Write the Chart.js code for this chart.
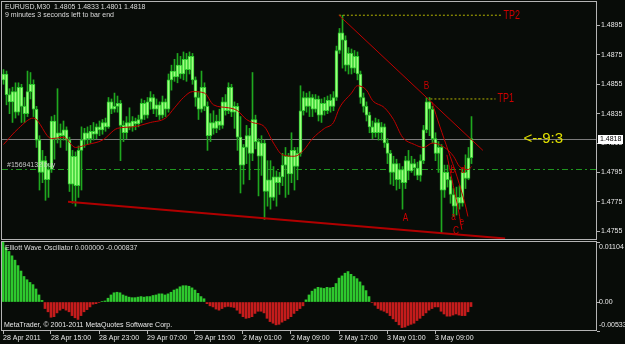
<!DOCTYPE html>
<html>
<head>
<meta charset="utf-8">
<title>EURUSD,M30</title>
<script src="https://cdn.jsdelivr.net/npm/chart.js@4.4.1/dist/chart.umd.min.js"></script>
<style>
  html, body { margin: 0; padding: 0; background: #080c08; }
  #wrap { position: relative; width: 625px; height: 344px; overflow: hidden; }
  canvas { position: absolute; left: 0; }
  #main { top: 0; }
  #osc { top: 241px; }
</style>
</head>
<body>
<div id="wrap">
  <canvas id="main" width="625" height="241"></canvas>
  <canvas id="osc" width="625" height="103"></canvas>
</div>
<script>
// EURUSD M30 candles (one entry per bar)
const opens = [
  1.4858,1.4862,1.4848,1.4843,1.4850,1.4836,1.4853,1.4840,1.4835,1.4850,
  1.4855,1.4838,1.4817,1.4795,1.4803,1.4790,1.4797,1.4830,1.4818,1.4822,
  1.4820,1.4824,1.4817,1.4787,1.4806,1.4786,1.4810,1.4817,1.4822,1.4818,
  1.4823,1.4821,1.4826,1.4824,1.4829,1.4826,1.4843,1.4838,1.4840,1.4842,
  1.4827,1.4822,1.4829,1.4826,1.4830,1.4828,1.4831,1.4842,1.4834,1.4843,
  1.4846,1.4838,1.4841,1.4834,1.4843,1.4838,1.4858,1.4864,1.4860,1.4868,
  1.4862,1.4872,1.4865,1.4874,1.4858,1.4846,1.4838,1.4853,1.4840,1.4820,
  1.4829,1.4825,1.4830,1.4827,1.4843,1.4837,1.4853,1.4836,1.4840,1.4819,
  1.4800,1.4812,1.4820,1.4808,1.4831,1.4816,1.4806,1.4815,1.4782,1.4790,
  1.4778,1.4792,1.4788,1.4792,1.4800,1.4806,1.4794,1.4810,1.4799,1.4808,
  1.4837,1.4846,1.4840,1.4846,1.4838,1.4845,1.4834,1.4842,1.4837,1.4844,
  1.4840,1.4846,1.4878,1.4890,1.4885,1.4868,1.4876,1.4866,1.4874,1.4862,
  1.4846,1.4840,1.4834,1.4826,1.4822,1.4829,1.4822,1.4826,1.4815,1.4808,
  1.4795,1.4801,1.4790,1.4797,1.4788,1.4803,1.4796,1.4801,1.4798,1.4793,
  1.4803,1.4824,1.4843,1.4838,1.4818,1.4808,1.4812,1.4783,1.4795,1.4790,
  1.4780,1.4772,1.4778,1.4774,1.4795,1.4791,1.4805
];
const highs = [
  1.4865,1.4864,1.4852,1.4853,1.4856,1.4856,1.4855,1.4846,1.4864,1.4863,
  1.4858,1.4840,1.4820,1.4810,1.4806,1.4801,1.4833,1.4834,1.4852,1.4828,
  1.4830,1.4826,1.4819,1.4810,1.4809,1.4813,1.4826,1.4825,1.4826,1.4827,
  1.4829,1.4828,1.4830,1.4831,1.4832,1.4846,1.4845,1.4849,1.4847,1.4844,
  1.4830,1.4833,1.4839,1.4833,1.4832,1.4834,1.4845,1.4844,1.4846,1.4850,
  1.4848,1.4845,1.4843,1.4847,1.4845,1.4862,1.4868,1.4872,1.4876,1.4874,
  1.4877,1.4876,1.4877,1.4876,1.4860,1.4850,1.4864,1.4856,1.4843,1.4835,
  1.4837,1.4834,1.4838,1.4846,1.4848,1.4856,1.4855,1.4843,1.4842,1.4833,
  1.4814,1.4827,1.4825,1.4863,1.4834,1.4818,1.4820,1.4817,1.4803,1.4803,
  1.4799,1.4796,1.4795,1.4808,1.4812,1.4808,1.4822,1.4812,1.4812,1.4854,
  1.4850,1.4849,1.4850,1.4848,1.4848,1.4847,1.4845,1.4846,1.4847,1.4848,
  1.4850,1.4881,1.4893,1.4902,1.4888,1.4880,1.4879,1.4878,1.4877,1.4864,
  1.4849,1.4843,1.4836,1.4830,1.4832,1.4831,1.4829,1.4828,1.4818,1.4810,
  1.4806,1.4804,1.4801,1.4799,1.4806,1.4810,1.4806,1.4804,1.4802,1.4807,
  1.4827,1.4846,1.4846,1.4840,1.4822,1.4816,1.4814,1.4800,1.4800,1.4792,
  1.4784,1.4785,1.4786,1.4798,1.4807,1.4812,1.4833
];
const lows = [
  1.4855,1.4841,1.4835,1.4829,1.4832,1.4834,1.4829,1.4829,1.4833,1.4845,
  1.4833,1.4812,1.4783,1.4788,1.4776,1.4778,1.4795,1.4804,1.4815,1.4812,
  1.4817,1.4810,1.4782,1.4774,1.4772,1.4778,1.4783,1.4812,1.4814,1.4815,
  1.4817,1.4818,1.4820,1.4821,1.4823,1.4825,1.4835,1.4836,1.4836,1.4803,
  1.4816,1.4818,1.4824,1.4823,1.4824,1.4826,1.4829,1.4831,1.4832,1.4838,
  1.4835,1.4833,1.4831,1.4832,1.4833,1.4836,1.4851,1.4857,1.4856,1.4859,
  1.4858,1.4857,1.4862,1.4855,1.4840,1.4831,1.4836,1.4837,1.4810,1.4816,
  1.4821,1.4822,1.4824,1.4825,1.4834,1.4835,1.4833,1.4825,1.4810,1.4781,
  1.4787,1.4801,1.4790,1.4803,1.4811,1.4779,1.4793,1.4763,1.4772,1.4770,
  1.4776,1.4772,1.4780,1.4786,1.4778,1.4780,1.4788,1.4783,1.4790,1.4806,
  1.4834,1.4836,1.4833,1.4833,1.4836,1.4830,1.4829,1.4834,1.4835,1.4836,
  1.4837,1.4844,1.4876,1.4866,1.4864,1.4862,1.4862,1.4863,1.4858,1.4842,
  1.4836,1.4830,1.4822,1.4818,1.4819,1.4817,1.4817,1.4812,1.4801,1.4787,
  1.4786,1.4783,1.4784,1.4770,1.4784,1.4790,1.4795,1.4793,1.4790,1.4789,
  1.4801,1.4822,1.4820,1.4815,1.4803,1.4795,1.4754,1.4778,1.4785,1.4774,
  1.4765,1.4766,1.4770,1.4772,1.4784,1.4790,1.4801
];
const closes = [
  1.4862,1.4848,1.4843,1.4850,1.4836,1.4853,1.4840,1.4835,1.4850,1.4855,
  1.4838,1.4817,1.4795,1.4803,1.4790,1.4797,1.4830,1.4818,1.4822,1.4820,
  1.4824,1.4817,1.4787,1.4806,1.4786,1.4810,1.4817,1.4822,1.4818,1.4823,
  1.4821,1.4826,1.4824,1.4829,1.4826,1.4843,1.4838,1.4840,1.4842,1.4827,
  1.4822,1.4829,1.4826,1.4830,1.4828,1.4831,1.4842,1.4834,1.4843,1.4846,
  1.4838,1.4841,1.4834,1.4843,1.4838,1.4858,1.4864,1.4860,1.4868,1.4862,
  1.4872,1.4865,1.4874,1.4858,1.4846,1.4838,1.4853,1.4840,1.4820,1.4829,
  1.4825,1.4830,1.4827,1.4843,1.4837,1.4853,1.4836,1.4840,1.4819,1.4800,
  1.4812,1.4820,1.4808,1.4831,1.4816,1.4806,1.4815,1.4782,1.4790,1.4778,
  1.4792,1.4788,1.4792,1.4800,1.4806,1.4794,1.4810,1.4799,1.4808,1.4837,
  1.4846,1.4840,1.4846,1.4838,1.4845,1.4834,1.4842,1.4837,1.4844,1.4840,
  1.4846,1.4878,1.4890,1.4885,1.4868,1.4876,1.4866,1.4874,1.4862,1.4846,
  1.4840,1.4834,1.4826,1.4822,1.4829,1.4822,1.4826,1.4815,1.4808,1.4795,
  1.4801,1.4790,1.4797,1.4788,1.4803,1.4796,1.4801,1.4798,1.4793,1.4803,
  1.4824,1.4843,1.4838,1.4818,1.4808,1.4812,1.4783,1.4795,1.4790,1.4780,
  1.4772,1.4778,1.4774,1.4795,1.4791,1.4805,1.4818
];

// Elliott Wave Oscillator histogram, one value per bar
const oscValues = [
  0.0110, 0.0100, 0.0093, 0.0085, 0.0077, 0.0067, 0.0057, 0.0047, 0.0041, 0.0036,
  0.0032, 0.0024, 0.0013, 0.0003,-0.0012,-0.0018,-0.0028,-0.0027,-0.0020,-0.0015,
 -0.0012,-0.0015,-0.0018,-0.0025,-0.0029,-0.0032,-0.0025,-0.0018,-0.0014,-0.0009,
 -0.0004,-0.0003,-0.0001, 0.0001, 0.0002, 0.0007, 0.0013, 0.0017, 0.0018, 0.0017,
  0.0013, 0.0011, 0.0009, 0.0008, 0.0008, 0.0009, 0.0010, 0.0009, 0.0010, 0.0010,
  0.0012, 0.0013, 0.0015, 0.0015, 0.0013, 0.0015, 0.0018, 0.0022, 0.0024, 0.0028,
  0.0030, 0.0030, 0.0029, 0.0026, 0.0022, 0.0016, 0.0010, 0.0006,-0.0003,-0.0007,
 -0.0009,-0.0013,-0.0015,-0.0012,-0.0009,-0.0008,-0.0009,-0.0010,-0.0015,-0.0021,
 -0.0027,-0.0030,-0.0029,-0.0027,-0.0021,-0.0017,-0.0017,-0.0020,-0.0030,-0.0036,
 -0.0039,-0.0042,-0.0041,-0.0037,-0.0034,-0.0031,-0.0027,-0.0021,-0.0016,-0.0012,
 -0.0007, 0.0004, 0.0013, 0.0020, 0.0024, 0.0027, 0.0026, 0.0025, 0.0027, 0.0026,
  0.0027, 0.0034, 0.0044, 0.0048, 0.0053, 0.0056, 0.0051, 0.0047, 0.0043, 0.0037,
  0.0030, 0.0021, 0.0010,-0.0001,-0.0006,-0.0012,-0.0015,-0.0017,-0.0020,-0.0025,
 -0.0031,-0.0036,-0.0042,-0.0047,-0.0046,-0.0043,-0.0041,-0.0039,-0.0034,-0.0030,
 -0.0025,-0.0020,-0.0015,-0.0012,-0.0009,-0.0009,-0.0017,-0.0022,-0.0026,-0.0026,
 -0.0024,-0.0022,-0.0024,-0.0025,-0.0025,-0.0018,-0.000837
];
const oscSignal = 0.0;

// red moving average, read at a handful of bars
const maIdx = [0,5,10,16,20,24,28,33,38,43,49,54,57,60,63,67,70,75,78,81,83,87,90,93,97,100,103,107,110,112,116,118,121,123,127,130,133,137,140,143,147,150,152,155,156];
const maValues = [1.4814,1.4825,1.4832,1.4818,1.4819,1.4812,1.4814,1.4817,1.4825,1.4826,1.4829,1.4832,1.4839,1.4846,1.4850,1.4849,1.4841,1.4839,1.4837,1.4831,1.4829,1.4826,1.4815,1.4807,1.4806,1.4810,1.4818,1.4825,1.4829,1.4839,1.4849,1.4854,1.4851,1.4844,1.4839,1.4831,1.4819,1.4814,1.4812,1.4815,1.4812,1.4806,1.4799,1.4797,1.4799];

// drawn objects
const supportIdx = [21.5, 167.2];
const supportPrice = [1.4775, 1.4750];
const resistIdx = [111.8, 159.8];
const resistPrice = [1.4902, 1.4810];
const waveLine1Idx = [142.8, 145.5, 148.2, 151.2, 153.8, 154.8];
const waveLine1Price = [1.4843, 1.4826, 1.4810, 1.4792, 1.4774, 1.4765];
const waveLine2Idx = [147.8, 149.5, 151.2, 152.8];
const waveLine2Price = [1.4807, 1.4790, 1.4774, 1.4756];
const tpNames = ['TP2', 'TP1'];
const tpLevels = [1.4902, 1.4845];
const tpFrom = [111.8, 142.3];
const tpTo = [166.0, 164.0];
const waveNames = ['A', 'B', 'C', 'a', 'b', 'd', 'e'];
const waveIdx = [134, 141, 150.8, 150, 149.8, 153.2, 152.8];
const wavePrice = [1.4764, 1.4854, 1.4755, 1.4765, 1.4797, 1.4797, 1.4761];
const lastPrice = 1.4818;
const orderPrice = 1.4797;
const orderText = '#15694132 buy';
const timerText = '<--9:3';
const timerIdx = 173.3;

// axes
const priceTicks = [1.4755, 1.4775, 1.4795, 1.4815, 1.4835, 1.4855, 1.4875, 1.4895];
const timeTickIdx = [0, 16, 32, 48, 64, 80, 96, 112, 128, 144];
const timeLabels = ['28 Apr 2011', '28 Apr 15:00', '28 Apr 23:00', '29 Apr 07:00', '29 Apr 15:00',
                    '2 May 01:00', '2 May 09:00', '2 May 17:00', '3 May 01:00', '3 May 09:00'];
const oscTicks = [0.01104, 0, -0.00533];
const oscTickText = ['0.01104', '0.00', '-0.00533'];

const BG = '#080c08';
const FRAME = '#b4b4b4';
const FONT = '"Liberation Sans", Arial, sans-serif';
const RED = '#cc0000';

const bars = closes.map((_, i) => i);
const pts = (xs, ys) => xs.map((x, k) => ({ x, y: ys[k] }));

function txt(ctx, s, x, y, color, size, align, sx) {
  ctx.save();
  ctx.translate(x, y);
  ctx.scale(sx || 1, 1);
  ctx.font = size + 'px ' + FONT;
  ctx.fillStyle = color;
  ctx.textAlign = align || 'left';
  ctx.textBaseline = 'middle';
  ctx.fillText(s, 0, 0);
  ctx.restore();
}

const mainDecor = {
  id: 'mainDecor',
  beforeDraw(chart) {
    const { ctx, width, height } = chart;
    ctx.save();
    ctx.fillStyle = BG;
    ctx.fillRect(0, 0, width, height);
    ctx.restore();
  },
  beforeDatasetsDraw(chart) {
    const { ctx, chartArea: a, scales: { y } } = chart;
    ctx.save();
    ctx.lineWidth = 1;
    let py = Math.round(y.getPixelForValue(lastPrice)) + 0.5;
    ctx.strokeStyle = '#7c7c7c';
    ctx.beginPath(); ctx.moveTo(a.left, py); ctx.lineTo(a.right, py); ctx.stroke();
    py = Math.round(y.getPixelForValue(orderPrice)) + 0.5;
    ctx.strokeStyle = '#1f961f';
    ctx.setLineDash([6, 3, 2, 3]);
    ctx.beginPath(); ctx.moveTo(a.left, py); ctx.lineTo(a.right, py); ctx.stroke();
    ctx.restore();
  },
  afterDatasetsDraw(chart) {
    const { ctx, chartArea: a, scales: { x, y } } = chart;
    const n = closes.length - 1;
    const ohlc = [opens[n], highs[n], lows[n], closes[n]].map(v => v.toFixed(4)).join(' ');
    txt(ctx, 'EURUSD,M30  ' + ohlc, a.left + 3, 7.5, '#dcdcdc', 7);
    txt(ctx, '9 minutes 3 seconds left to bar end', a.left + 3, 15.5, '#dcdcdc', 7);
    txt(ctx, orderText, a.left + 5, y.getPixelForValue(orderPrice) - 4.5, '#c8c8c8', 7);
    tpNames.forEach((s, k) => {
      txt(ctx, s, x.getPixelForValue(tpTo[k]) + 2, y.getPixelForValue(tpLevels[k]), RED, 12, 'left', 0.75);
    });
    waveNames.forEach((s, k) => {
      txt(ctx, s, x.getPixelForValue(waveIdx[k]), y.getPixelForValue(wavePrice[k]), RED, 11, 'center', 0.75);
    });
    txt(ctx, timerText, x.getPixelForValue(timerIdx), y.getPixelForValue(lastPrice), '#e0e000', 15, 'left');
  },
  afterDraw(chart) {
    const { ctx, chartArea: a, scales: { y } } = chart;
    ctx.save();
    ctx.strokeStyle = FRAME;
    ctx.lineWidth = 1;
    ctx.strokeRect(a.left - 0.5, a.top - 0.5, a.right - a.left, a.bottom - a.top);
    const py = Math.round(y.getPixelForValue(lastPrice));
    ctx.fillStyle = '#ffffff';
    ctx.fillRect(a.right + 1, py - 4, 25, 9);
    ctx.restore();
    txt(ctx, lastPrice.toFixed(4), a.right + 3, py + 0.5, '#000000', 7);
  }
};

const oscDecor = {
  id: 'oscDecor',
  beforeDraw(chart) {
    const { ctx, width, height } = chart;
    ctx.save();
    ctx.fillStyle = BG;
    ctx.fillRect(0, 0, width, height);
    ctx.restore();
  },
  afterDraw(chart) {
    const { ctx, chartArea: a, scales: { y } } = chart;
    ctx.save();
    ctx.strokeStyle = FRAME;
    ctx.lineWidth = 1;
    ctx.strokeRect(a.left - 0.5, a.top - 0.5, a.right - a.left, a.bottom - a.top);
    ctx.restore();
    oscTicks.forEach((v, k) => {
      const py = Math.min(Math.max(y.getPixelForValue(v), a.top + 5), a.bottom - 6);
      txt(ctx, oscTickText[k], a.right + 2, py, '#e8e8e8', 7);
    });
    const last = oscValues[oscValues.length - 1];
    txt(ctx, 'Elliott Wave Oscillator ' + oscSignal.toFixed(6) + ' ' + last.toFixed(6),
        a.left + 3, a.top + 6, '#dcdcdc', 7);
    txt(ctx, 'MetaTrader, \u00a9 2001-2011 MetaQuotes Software Corp.', a.left + 2, a.bottom - 5.5, '#e8e8e8', 7);
  }
};

new Chart(document.getElementById('main'), {
  type: 'bar',
  data: {
    datasets: [
      { type: 'line', data: pts(maIdx, maValues), borderColor: '#c00000', borderWidth: 1,
        pointRadius: 0, cubicInterpolationMode: 'monotone', order: 1 },
      { type: 'line', data: pts(supportIdx, supportPrice), borderColor: '#b00000', borderWidth: 2,
        pointRadius: 0, order: 1 },
      { type: 'line', data: pts(resistIdx, resistPrice), borderColor: '#c00000', borderWidth: 1,
        pointRadius: 0, order: 1 },
      { type: 'line', data: pts(waveLine1Idx, waveLine1Price), borderColor: '#c00000', borderWidth: 1,
        pointRadius: 0, tension: 0.3, order: 1 },
      { type: 'line', data: pts(waveLine2Idx, waveLine2Price), borderColor: '#c00000', borderWidth: 1,
        pointRadius: 0, tension: 0.3, order: 1 },
      { type: 'line', data: [{ x: tpFrom[0], y: tpLevels[0] }, { x: tpTo[0], y: tpLevels[0] }],
        borderColor: '#b4b400', borderWidth: 1, borderDash: [2, 2], pointRadius: 0, order: 1 },
      { type: 'line', data: [{ x: tpFrom[1], y: tpLevels[1] }, { x: tpTo[1], y: tpLevels[1] }],
        borderColor: '#b4b400', borderWidth: 1, borderDash: [2, 2], pointRadius: 0, order: 1 },
      { data: bars.map(i => ({ x: i, y: [opens[i], closes[i]] })), backgroundColor: '#a0ff80',
        borderColor: '#2ecc2e', borderWidth: 1, borderSkipped: false, barThickness: 3,
        minBarLength: 1, grouped: false, order: 5 },
      { data: bars.map(i => ({ x: i, y: [lows[i], highs[i]] })), backgroundColor: '#1fa81f',
        barThickness: 1, grouped: false, order: 6 }
    ]
  },
  options: {
    responsive: false,
    animation: false,
    devicePixelRatio: 1,
    layout: { padding: { left: 2, top: 2, right: 0, bottom: 1 } },
    plugins: { legend: { display: false }, tooltip: { enabled: false } },
    scales: {
      x: { type: 'linear', display: false, min: -0.5, max: 197.8333, offset: false, grid: { offset: false } },
      y: {
        type: 'linear', position: 'right', min: 1.4749, max: 1.4911,
        afterBuildTicks: s => { s.ticks = priceTicks.map(v => ({ value: v })); },
        afterFit: s => { s.width = 28; s.paddingTop = 0; s.paddingBottom = 0; },
        ticks: { callback: v => v.toFixed(4), color: '#e8e8e8', font: { family: FONT, size: 7 }, padding: 1 },
        grid: { drawOnChartArea: false, tickLength: 3, color: FRAME },
        border: { display: false }
      }
    }
  },
  plugins: [mainDecor]
});

new Chart(document.getElementById('osc'), {
  type: 'bar',
  data: {
    datasets: [{
      data: bars.map(i => ({ x: i, y: oscValues[i] })),
      backgroundColor: c => (c.raw && c.raw.y < 0) ? '#c41c1c' : '#2ec82e',
      barThickness: 2, grouped: false
    }]
  },
  options: {
    responsive: false,
    animation: false,
    devicePixelRatio: 1,
    layout: { padding: { left: 2, top: 1, right: 0, bottom: 0 } },
    plugins: { legend: { display: false }, tooltip: { enabled: false } },
    scales: {
      x: {
        type: 'linear', min: -1 / 3, max: 198, offset: false,
        afterBuildTicks: s => { s.ticks = timeTickIdx.map(v => ({ value: v })); },
        afterFit: s => { s.height = 13; s.paddingLeft = 0; s.paddingRight = 0; },
        ticks: { autoSkip: false, maxRotation: 0, align: 'start', padding: 0, color: '#e8e8e8',
                 font: { family: FONT, size: 7 }, callback: (v, k) => timeLabels[k] },
        grid: { drawOnChartArea: false, tickLength: 3, color: FRAME, offset: false },
        border: { display: false }
      },
      y: {
        type: 'linear', position: 'right', min: -0.00533, max: 0.01104,
        afterBuildTicks: s => { s.ticks = oscTicks.map(v => ({ value: v })); },
        afterFit: s => { s.width = 28; s.paddingTop = 0; s.paddingBottom = 0; },
        ticks: { display: false },
        grid: { drawOnChartArea: false, tickLength: 3, color: FRAME },
        border: { display: false }
      }
    }
  },
  plugins: [oscDecor]
});
</script>
</body>
</html>
